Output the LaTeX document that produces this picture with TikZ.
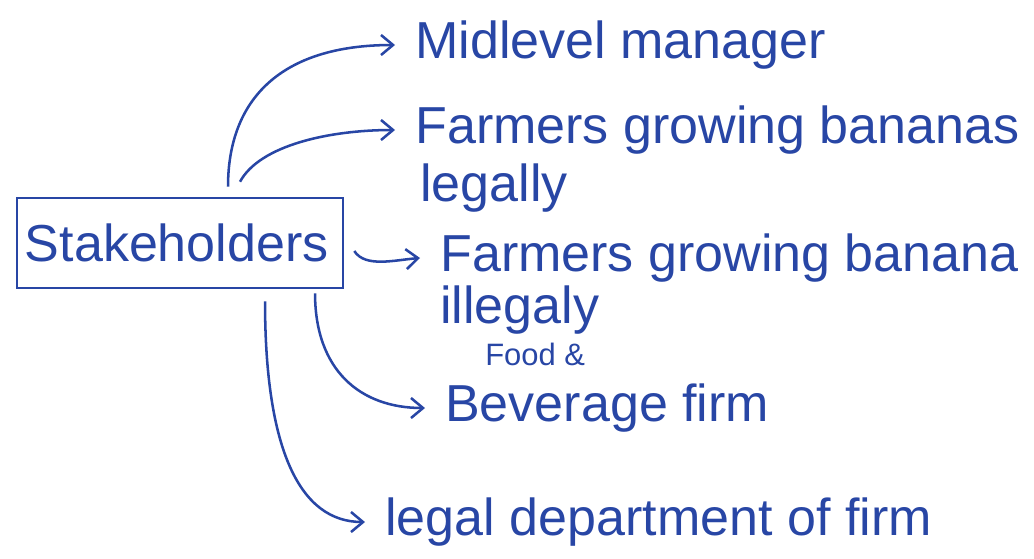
\documentclass[tikz,border=0pt]{standalone}
\usepackage{fontspec}
\setmainfont{Liberation Sans}
\usetikzlibrary{arrows.meta}
\definecolor{ink}{RGB}{40,70,165}

\begin{document}
\begin{tikzpicture}[x=0.025cm, y=-0.025cm]
    \tikzstyle{every node}=[text=ink, font=\fontsize{37}{40}\selectfont];
    \tikzstyle{item}=[anchor=west, inner xsep=0.5cm, inner ysep=0pt];
    \tikzstyle{link}=[draw=ink, line width=1.8pt, -{Straight Barb[length=0.3cm,width=0.5cm]}];
    \useasboundingbox (0,0) rectangle (1034,559);
    \node[draw=ink, line width=1.8pt, text width=7.75cm, align=left, inner xsep=0.2cm, minimum height=2.25cm] (S) at (180,243) {Stakeholders};
    \node[item] (M) at (395,45) {Midlevel manager};
    \node[item] (L) at (395,130) {Farmers growing bananas};
    \node[item] (L2) at (400,188) {legally};
    \node[item] (I) at (420,258) {Farmers growing banana};
    \node[item] (I2) at (420,310) {illegaly};
    \node[anchor=west, inner sep=0pt, font=\fontsize{22}{24}\selectfont] (FB) at (485,354) {Food \&};
    \node[item] (F) at (425,408) {Beverage firm};
    \node[item] (D) at (365,522) {legal department of firm};
    \draw[link] ([xshift=1.2cm,yshift=0.25cm]S.north) .. controls (228,100) and (280,45) .. (M.west);
    \draw[link] ([xshift=1.5cm,yshift=0.375cm]S.north) .. controls (260,145) and (330,130) .. (L.west);
    \draw[link] ([xshift=0.25cm,yshift=-0.2cm]S.east) .. controls (365,268) and (395,260) .. (I.west);
    \draw[link] ([xshift=3.375cm,yshift=-0.1cm]S.south) .. controls (315,370) and (360,408) .. (F.west);
    \draw[link] ([xshift=2.125cm,yshift=-0.3cm]S.south) .. controls (265,450) and (300,522) .. (D.west);
\end{tikzpicture}
\end{document}
